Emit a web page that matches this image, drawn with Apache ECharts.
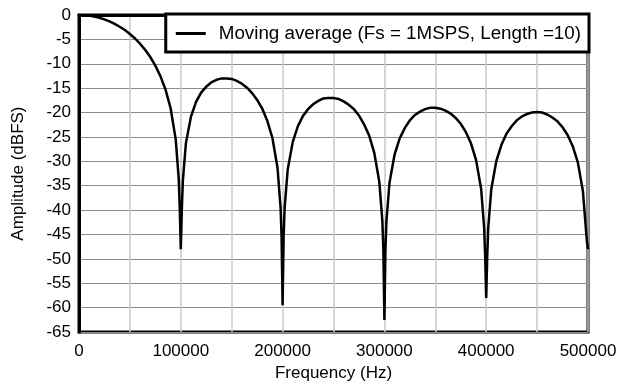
<!DOCTYPE html>
<html>
<head>
<meta charset="utf-8">
<script src="https://cdn.jsdelivr.net/npm/echarts@6/dist/echarts.min.js"></script>
<style>
  html, body { margin: 0; padding: 0; background: #fff; }
  #chart { width: 621px; height: 387px; }
</style>
</head>
<body>
<div id="chart"></div>
<script>
// frequency points (Hz)
const freqHz = [
  12000, 15000, 20000, 25000, 30000, 35000, 40000, 45000, 50000, 55000,
  60000, 65000, 70000, 75000, 80000, 85000, 90000, 95000, 98000, 99000,
  100000, 101000, 102000, 105000, 110000, 115000, 120000, 125000, 130000, 135000,
  140000, 145000, 150000, 155000, 160000, 165000, 170000, 175000, 180000, 185000,
  190000, 195000, 198000, 199000, 200000, 201000, 202000, 205000, 210000, 215000,
  220000, 225000, 230000, 235000, 240000, 245000, 250000, 255000, 260000, 265000,
  270000, 275000, 280000, 285000, 290000, 295000, 298000, 299000, 300000, 301000,
  302000, 305000, 310000, 315000, 320000, 325000, 330000, 335000, 340000, 345000,
  350000, 355000, 360000, 365000, 370000, 375000, 380000, 385000, 390000, 395000,
  398000, 399000, 400000, 401000, 402000, 405000, 410000, 415000, 420000, 425000,
  430000, 435000, 440000, 445000, 450000, 455000, 460000, 465000, 470000, 475000,
  480000, 485000, 490000, 495000, 498000, 499000, 500000
];
// amplitude (dBFS)
const amplitudeDb = [
  -0.20, -0.32, -0.57, -0.90, -1.31, -1.81, -2.40, -3.09, -3.89, -4.81,
  -5.89, -7.14, -8.62, -10.37, -12.53, -15.29, -19.11, -25.48, -33.67, -39.8,
  -48.0, -39.9, -34.0, -26.3, -20.8, -17.8, -15.9, -14.7, -13.8, -13.3,
  -13.0, -13.0, -13.1, -13.5, -14.1, -14.9, -16.0, -17.4, -19.2, -21.7,
  -25.2, -31.3, -39.4, -45.4, -59.5, -45.5, -39.5, -31.7, -26.0, -22.8,
  -20.7, -19.3, -18.3, -17.6, -17.1, -17.0, -17.0, -17.2, -17.7, -18.4,
  -19.3, -20.6, -22.4, -24.7, -28.2, -34.2, -42.2, -48.2, -62.5, -48.2,
  -42.2, -34.4, -28.6, -25.3, -23.2, -21.6, -20.5, -19.8, -19.3, -19.0,
  -19.0, -19.2, -19.6, -20.2, -21.1, -22.3, -24.0, -26.3, -29.7, -35.6,
  -43.6, -49.6, -58.0, -49.6, -43.6, -35.7, -29.9, -26.6, -24.3, -22.8,
  -21.6, -20.8, -20.3, -20.0, -19.9, -20.0, -20.4, -21.0, -21.8, -23.0,
  -24.6, -26.9, -30.2, -36.1, -44.0, -46.5, -48.0
];
const seriesName = 'Moving average (Fs = 1MSPS, Length =10)';
const xLabelStep = 100000;

const chart = echarts.init(document.getElementById('chart'), null, { renderer: 'canvas' });
const font = 'Liberation Sans, Arial, sans-serif';

chart.setOption({
  animation: false,
  backgroundColor: '#fff',
  textStyle: { fontFamily: font },
  grid: {
    left: 79, right: 33, top: 15, bottom: 48,
    show: true, borderColor: '#000', borderWidth: 3, backgroundColor: 'transparent'
  },
  legend: {
    data: [{ name: seriesName, icon: 'path://M0,0 L10,0 L10,1 L0,1 Z' }],
    right: 32, top: 14,
    padding: [10, 8, 9, 10],
    itemWidth: 36, itemHeight: 3, itemGap: 10,
    backgroundColor: '#fff', borderColor: '#000', borderWidth: 3, borderRadius: 0,
    textStyle: { fontSize: 18.8, color: '#000', fontFamily: font, padding: [0, 0, 0, 5] }
  },
  xAxis: {
    type: 'value', min: 0, max: 500000, interval: 50000,
    name: 'Frequency (Hz)', nameLocation: 'middle', nameGap: 32,
    nameTextStyle: { fontSize: 17, color: '#000' },
    axisLine: { show: true, lineStyle: { color: '#000', width: 3 } },
    axisTick: { show: false },
    axisLabel: {
      fontSize: 17, color: '#000', margin: 11,
      formatter: v => (v % xLabelStep === 0 ? String(v) : '')
    },
    splitLine: { show: true, lineStyle: { color: '#c8c8c8', width: 1.5 } }
  },
  yAxis: {
    type: 'value', min: -65, max: 0, interval: 5,
    name: 'Amplitude (dBFS)', nameLocation: 'middle', nameGap: 52,
    nameTextStyle: { fontSize: 17, color: '#000' },
    axisLine: { show: true, lineStyle: { color: '#000', width: 3 } },
    axisTick: { show: false },
    axisLabel: { fontSize: 17, color: '#000', margin: 8 },
    splitLine: { show: true, lineStyle: { color: '#8c8c8c', width: 1 } }
  },
  series: [{
    name: seriesName,
    type: 'line',
    data: freqHz.map((f, i) => [f, amplitudeDb[i]]),
    showSymbol: false,
    smooth: false,
    lineStyle: { color: '#000', width: 2.5, join: 'miter' },
    itemStyle: { color: '#000' }
  }]
});
</script>
</body>
</html>
